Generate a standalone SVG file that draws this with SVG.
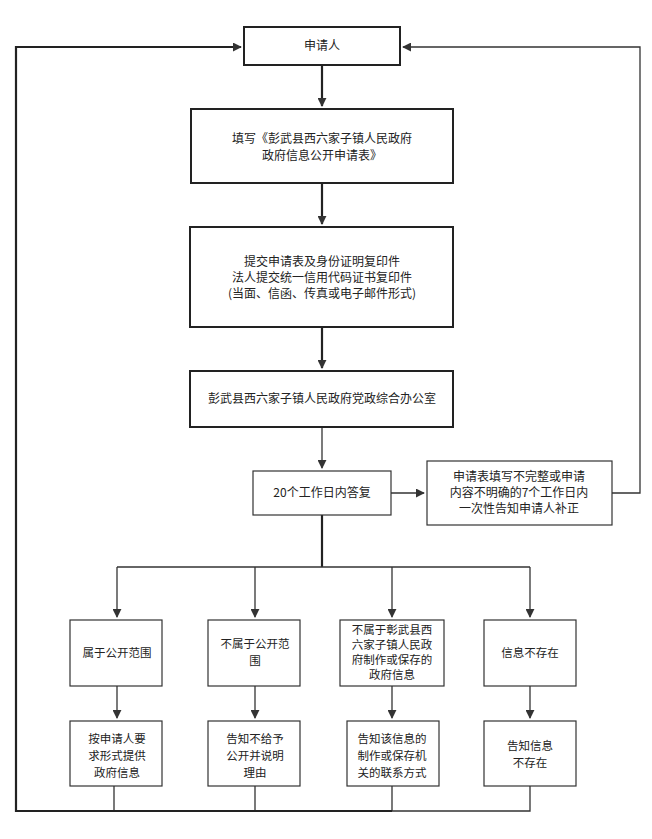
<svg xmlns="http://www.w3.org/2000/svg" width="652" height="839" viewBox="0 0 652 839">
<style>
.b{fill:#fff;stroke:#222;stroke-width:2}
.t{fill:#fff;stroke:#333;stroke-width:1.2}
text{font-family:"Noto Sans CJK SC","Liberation Sans",sans-serif;font-size:12px;fill:#222;text-anchor:middle}
.s text{font-size:11.5px}
.c{fill:none;stroke:#333;stroke-width:1.3}
.k{fill:none;stroke:#222;stroke-width:2.2}
</style>
<defs>
<marker id="a" viewBox="0 0 10 10" refX="9" refY="5" markerWidth="9" markerHeight="9" markerUnits="userSpaceOnUse" orient="auto"><path d="M0,0L10,5L0,10z" fill="#333"/></marker>
</defs>
<rect width="652" height="839" fill="#fff"/>
<g id="connectors">
<path class="k" d="M322,65V106" marker-end="url(#a)"/>
<path class="k" d="M322,183V224" marker-end="url(#a)"/>
<path class="k" d="M322,327V368" marker-end="url(#a)"/>
<path class="c" d="M322,427V468" marker-end="url(#a)"/>
<path class="c" d="M391,493H424" marker-end="url(#a)"/>
<path class="c" d="M612,493H640V47H403" marker-end="url(#a)"/>
<path class="k" d="M322,515V567"/>
<path class="c" d="M117,567H530"/>
<path class="c" d="M117,567V617" marker-end="url(#a)"/>
<path class="c" d="M255,567V617" marker-end="url(#a)"/>
<path class="c" d="M392,567V617" marker-end="url(#a)"/>
<path class="c" d="M530,567V617" marker-end="url(#a)"/>
<path class="c" d="M117,686V718" marker-end="url(#a)"/>
<path class="c" d="M255,686V718" marker-end="url(#a)"/>
<path class="c" d="M392,686V718" marker-end="url(#a)"/>
<path class="c" d="M530,686V718" marker-end="url(#a)"/>
<path class="c" d="M114,786V811M255,786V811M392,786V811M530,786V811H392"/>
<path class="k" d="M392,811H16V47H241" marker-end="url(#a)"/>
</g>
<g id="n1"><rect class="b" x="244" y="27" width="156" height="38"/><text x="322" y="50">申请人</text></g>
<g id="n2"><rect class="b" x="191" y="109" width="262" height="74"/><text x="322" y="143">填写《彭武县西六家子镇人民政府</text><text x="322" y="160">政府信息公开申请表》</text></g>
<g id="n3"><rect class="b" x="190" y="227" width="263" height="100"/><text x="322" y="266">提交申请表及身份证明复印件</text><text x="322" y="282">法人提交统一信用代码证书复印件</text><text x="322" y="298">(当面、信函、传真或电子邮件形式)</text></g>
<g id="n4"><rect class="b" x="190" y="371" width="263" height="56"/><text x="322" y="403">彭武县西六家子镇人民政府党政综合办公室</text></g>
<g id="n5"><rect class="t" x="253" y="471" width="138" height="44"/><text x="322" y="497">20个工作日内答复</text></g>
<g id="n6"><rect class="t" x="427" y="461" width="185" height="64"/><text x="519" y="481">申请表填写不完整或申请</text><text x="519" y="497">内容不明确的7个工作日内</text><text x="519" y="513">一次性告知申请人补正</text></g>
<g class="s">
<g id="r1"><rect class="t" x="70" y="620" width="92" height="66"/><text x="117" y="657">属于公开范围</text></g>
<g id="r2"><rect class="t" x="208" y="620" width="92" height="66"/><text x="255" y="648">不属于公开范</text><text x="255" y="665">围</text></g>
<g id="r3"><rect class="t" x="340" y="620" width="104" height="66"/><text x="392" y="634">不属于彰武县西</text><text x="392" y="649">六家子镇人民政</text><text x="392" y="664">府制作或保存的</text><text x="392" y="679">政府信息</text></g>
<g id="r4"><rect class="t" x="484" y="620" width="92" height="66"/><text x="530" y="657">信息不存在</text></g>
<g id="s1"><rect class="t" x="70" y="721" width="92" height="65"/><text x="117" y="743">按申请人要</text><text x="117" y="760">求形式提供</text><text x="117" y="777">政府信息</text></g>
<g id="s2"><rect class="t" x="208" y="721" width="92" height="65"/><text x="255" y="743">告知不给予</text><text x="255" y="760">公开并说明</text><text x="255" y="777">理由</text></g>
<g id="s3"><rect class="t" x="347" y="721" width="92" height="65"/><text x="392" y="743">告知该信息的</text><text x="392" y="760">制作或保存机</text><text x="392" y="777">关的联系方式</text></g>
<g id="s4"><rect class="t" x="484" y="721" width="92" height="65"/><text x="530" y="750">告知信息</text><text x="530" y="767">不存在</text></g>
</g>
</svg>
